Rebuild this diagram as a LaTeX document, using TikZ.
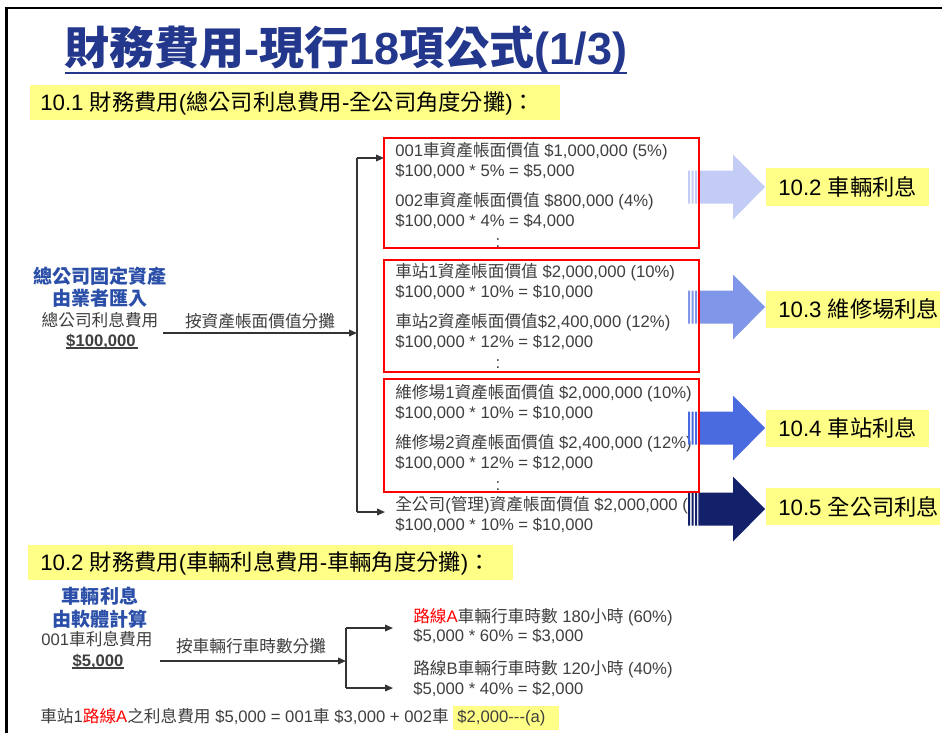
\documentclass[tikz,border=0pt]{standalone}
\usepackage{fontspec}
\usetikzlibrary{arrows.meta}
\setmainfont{Liberation Sans}
\newfontfamily\cjkfont{Noto Sans CJK TC}
\XeTeXinterchartokenstate=1
\newXeTeXintercharclass\CJKcls
\newcount\cjkn
\cjkn="3000 \loop\ifnum\cjkn<"3040 \XeTeXcharclass\cjkn=\CJKcls\relax\advance\cjkn by 1 \repeat
\cjkn="4E00 \loop\ifnum\cjkn<"A000 \XeTeXcharclass\cjkn=\CJKcls\relax\advance\cjkn by 1 \repeat
\cjkn="FF00 \loop\ifnum\cjkn<"FFF0 \XeTeXcharclass\cjkn=\CJKcls\relax\advance\cjkn by 1 \repeat
\XeTeXinterchartoks 0 \CJKcls = {\begingroup\cjkfont}
\XeTeXinterchartoks 4095 \CJKcls = {\begingroup\cjkfont}
\XeTeXinterchartoks \CJKcls 0 = {\endgroup}
\XeTeXinterchartoks \CJKcls 4095 = {\endgroup}
\definecolor{navyt}{HTML}{23378C}
\definecolor{bluet}{HTML}{2B4FA8}
\definecolor{txt}{HTML}{3F3F3F}
\definecolor{hl}{HTML}{FFFF88}
\definecolor{linec}{HTML}{333333}
\definecolor{arA}{HTML}{C2CCF4}
\definecolor{arB}{HTML}{8096E8}
\definecolor{arC}{HTML}{4A6AE0}
\definecolor{arD}{HTML}{13216B}
\newcommand\blkarrow[2]{\begin{scope}[shift={(0,#1)}]
\fill[#2] (688,-16.5) rectangle (690,16.5) (691.7,-16.5) rectangle (693.5,16.5) (695,-16.5) rectangle (697.2,16.5);
\fill[#2] (698.3,-16.5) -- (733,-16.5) -- (733,-32.5) -- (765,0) -- (733,32.5) -- (733,16.5) -- (698.3,16.5) -- cycle;
\end{scope}}
\begin{document}
\begin{tikzpicture}[x=0.75pt,y=-0.75pt,
  every node/.style={inner sep=0pt},
  body/.style={font=\fontsize{12.5}{15}\selectfont, text=txt, anchor=west, text height=0.85em, text depth=0.15em},
  bodyb/.style={body, font=\fontsize{12.5}{15}\selectfont\bfseries},
  bluehd/.style={font=\fontsize{14.3}{17}\selectfont\bfseries, text=bluet},
  hdr/.style={font=\fontsize{16.7}{20}\selectfont, text=black, anchor=west},
  conn/.style={draw=linec, line width=1.1pt},
  tip/.style={-{Triangle[length=6pt,width=5pt]}},
  redbox/.style={draw=red, line width=1.5pt}]
\useasboundingbox (0,0) rectangle (942,733);
\fill[white] (0,0) rectangle (942,733);
\draw[line width=2.2pt] (6.5,733) -- (6.5,8) -- (942,8);
% title
\node[font=\fontsize{33.75}{40}\selectfont\bfseries, text=navyt] (title) at (346,50) {財務費用-現行18項公式(1/3)};
\draw[navyt, line width=2pt] (65,73) -- (627,73);
% header 1
\fill[hl] (30,85) rectangle (560,120);
\node[hdr] (h1) at (40,103) {10.1 財務費用(總公司利息費用-全公司角度分攤)：};
% left block
\node[bluehd] (s1) at (100,276) {總公司固定資產};
\node[bluehd] (s2) at (100,298) {由業者匯入};
\node[body, anchor=center] (s3) at (100,322) {總公司利息費用};
\node[bodyb, anchor=center] (s4) at (101,342) {\$100,000};
\draw[txt, line width=1pt] (s4.south west) ++(0,-1) -- ++(72,0);
\coordinate (a0) at (163,333);
\coordinate (j1) at (357,333);
\draw[conn,tip] (a0) -- (j1);
\node[body, anchor=center] (lab1) at (260,323) {按資產帳面價值分攤};
\coordinate (jt) at (357,158);
\coordinate (jb) at (357,512);
\coordinate (bt) at (384,158);
\coordinate (bb) at (385,512);
\draw[conn] (jt) -- (jb);
\draw[conn,tip] (jt) -- (bt);
\draw[conn,tip] (jb) -- (bb);
% box texts
\node[body] (t11) at (395,152) {001車資產帳面價值 \$1,000,000 (5\%)};
\node[body] (t12) at (395,172) {\$100,000 * 5\% = \$5,000};
\node[body] (t13) at (395,202) {002車資產帳面價值 \$800,000 (4\%)};
\node[body] (t14) at (395,222) {\$100,000 * 4\% = \$4,000};
\node[body, anchor=center] (t15) at (498,243) {:};
\node[body] (t21) at (395,273) {車站1資產帳面價值 \$2,000,000 (10\%)};
\node[body] (t22) at (395,293) {\$100,000 * 10\% = \$10,000};
\node[body] (t23) at (395,323) {車站2資產帳面價值\$2,400,000 (12\%)};
\node[body] (t24) at (395,343) {\$100,000 * 12\% = \$12,000};
\node[body, anchor=center] (t25) at (498,364) {:};
\node[body] (t31) at (395,394) {維修場1資產帳面價值 \$2,000,000 (10\%)};
\node[body] (t32) at (395,414) {\$100,000 * 10\% = \$10,000};
\node[body] (t33) at (395,444) {維修場2資產帳面價值 \$2,400,000 (12\%)};
\node[body] (t34) at (395,464) {\$100,000 * 12\% = \$12,000};
\node[body, anchor=center] (t35) at (498,486) {:};
\node[body] (t41) at (395,506) {全公司(管理)資產帳面價值 \$2,000,000 (};
\node[body] (t42) at (395,526) {\$100,000 * 10\% = \$10,000};
% block arrows
\blkarrow{187}{arA}
\blkarrow{307}{arB}
\blkarrow{428}{arC}
\blkarrow{509}{arD}
% red boxes
\draw[redbox] (384,138) rectangle (699,248);
\draw[redbox] (384,260) rectangle (699,372);
\draw[redbox] (384,379) rectangle (699,492);
% labels
\fill[hl] (766,168) rectangle (929,206);
\node[hdr] (l1) at (778,187) {10.2 車輛利息};
\fill[hl] (766,291) rectangle (940,328);
\node[hdr] (l2) at (778,309) {10.3 維修場利息};
\fill[hl] (766,410) rectangle (929,447);
\node[hdr] (l3) at (778,428) {10.4 車站利息};
\fill[hl] (766,488) rectangle (940,525);
\node[hdr] (l4) at (778,507) {10.5 全公司利息};
% section 2
\fill[hl] (28,545) rectangle (513,580);
\node[hdr] (h2) at (40,563) {10.2 財務費用(車輛利息費用-車輛角度分攤)：};
\node[bluehd] (v1) at (100,596) {車輛利息};
\node[bluehd] (v2) at (100,619) {由軟體計算};
\node[body, anchor=center] (v3) at (97,641) {001車利息費用};
\node[bodyb, anchor=center] (v4) at (98,662) {\$5,000};
\draw[txt, line width=1pt] (v4.south west) ++(0,-1) -- ++(52,0);
\coordinate (b0) at (160,661);
\coordinate (j2) at (346,661);
\draw[conn,tip] (b0) -- (j2);
\node[body, anchor=center] (lab2) at (251,648) {按車輛行車時數分攤};
\coordinate (j2t) at (346,628);
\coordinate (j2b) at (346,688);
\coordinate (e1) at (393,628);
\coordinate (e2) at (393,688);
\draw[conn] (j2t) -- (j2b);
\draw[conn,tip] (j2t) -- (e1);
\draw[conn,tip] (j2b) -- (e2);
\node[body] (r1) at (413,618) {\textcolor{red}{路線A}車輛行車時數 180小時 (60\%)};
\node[body] (r2) at (413,637) {\$5,000 * 60\% = \$3,000};
\node[body] (r3) at (413,670) {路線B車輛行車時數 120小時 (40\%)};
\node[body] (r4) at (413,690) {\$5,000 * 40\% = \$2,000};
\node[body] (fin) at (40,718) {車站1\textcolor{red}{路線A}之利息費用 \$5,000 = 001車 \$3,000 + 002車 {\fboxsep=3pt\colorbox{hl}{\$2,000-{}-{}-(a)\hspace{7pt}}}};
\end{tikzpicture}
\end{document}
